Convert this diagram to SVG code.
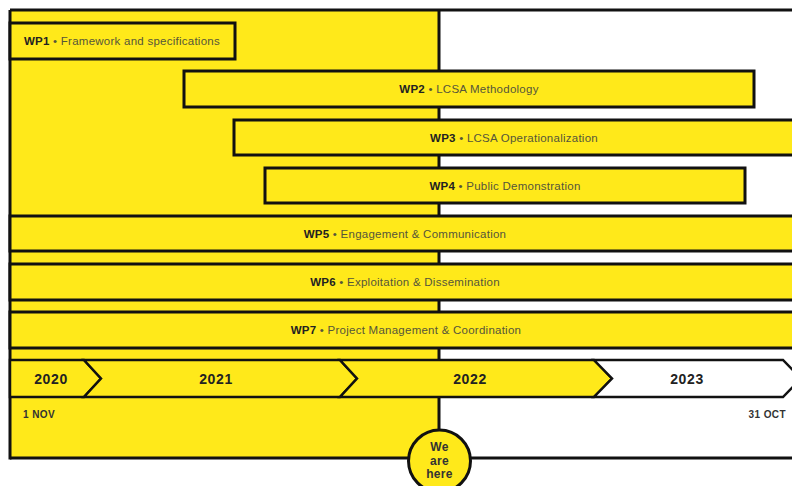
<svg xmlns="http://www.w3.org/2000/svg" width="792" height="486" viewBox="0 0 792 486">
<style>
.box{fill:#FFE91A;stroke:#111;stroke-width:3}
.seg{stroke:#111;stroke-width:2.5;stroke-linejoin:miter}
.lbl{font-family:"Liberation Sans","DejaVu Sans",sans-serif;font-size:11.5px;letter-spacing:0.25px;fill:#55553a}
.lbl .n{font-weight:bold;fill:#222}
.yr{font-family:"Liberation Sans","DejaVu Sans",sans-serif;font-size:14px;letter-spacing:0.6px;font-weight:bold;fill:#222;text-anchor:middle}
.dt{font-family:"Liberation Sans","DejaVu Sans",sans-serif;font-size:10px;letter-spacing:0.4px;font-weight:bold;fill:#333}
.here{font-family:"Liberation Sans","DejaVu Sans",sans-serif;font-size:12px;letter-spacing:0.3px;font-weight:bold;fill:#333;text-anchor:middle}
</style>
<rect x="0" y="0" width="792" height="486" fill="#fff"/>
<g id="frame">
<rect x="10" y="10" width="429" height="448" fill="#FFE91A"/>
<line x1="10" y1="10" x2="800" y2="10" stroke="#111" stroke-width="3"/>
<line x1="10" y1="10" x2="10" y2="459.5" stroke="#111" stroke-width="3"/>
<line x1="10" y1="458" x2="800" y2="458" stroke="#111" stroke-width="3"/>
</g>
<g id="connectors">
<line x1="439" y1="10" x2="439" y2="432" stroke="#111" stroke-width="3"/>
</g>
<g id="wp1"><rect class="box" x="10" y="23" width="225" height="36"/>
<text class="lbl" x="24" y="45"><tspan class="n">WP1</tspan> • Framework and specifications</text></g>
<g id="wp2"><rect class="box" x="184" y="71" width="570" height="36"/>
<text class="lbl" x="469" y="93" text-anchor="middle"><tspan class="n">WP2</tspan> • LCSA Methodology</text></g>
<g id="wp3"><rect class="box" x="234" y="120" width="570" height="35"/>
<text class="lbl" x="514" y="141.5" text-anchor="middle"><tspan class="n">WP3</tspan> • LCSA Operationalization</text></g>
<g id="wp4"><rect class="box" x="265" y="168" width="480" height="35"/>
<text class="lbl" x="505" y="189.5" text-anchor="middle"><tspan class="n">WP4</tspan> • Public Demonstration</text></g>
<g id="wp5"><rect class="box" x="10" y="216" width="790" height="35"/>
<text class="lbl" x="405" y="237.5" text-anchor="middle"><tspan class="n">WP5</tspan> • Engagement &amp; Communication</text></g>
<g id="wp6"><rect class="box" x="10" y="264" width="790" height="36"/>
<text class="lbl" x="405" y="286" text-anchor="middle"><tspan class="n">WP6</tspan> • Exploitation &amp; Dissemination</text></g>
<g id="wp7"><rect class="box" x="10" y="312" width="790" height="36"/>
<text class="lbl" x="406" y="334" text-anchor="middle"><tspan class="n">WP7</tspan> • Project Management &amp; Coordination</text></g>
<g id="y2020"><polygon class="seg" fill="#FFE91A" points="10,360 84,360 101,378.5 84,397 10,397"/>
<text class="yr" x="51" y="383.5">2020</text></g>
<g id="y2021"><polygon class="seg" fill="#FFE91A" points="84,360 340,360 357,378.5 340,397 84,397 101,378.5"/>
<text class="yr" x="216" y="383.5">2021</text></g>
<g id="y2022"><polygon class="seg" fill="#FFE91A" points="340,360 594,360 612,378.5 594,397 340,397 357,378.5"/>
<text class="yr" x="470" y="383.5">2022</text></g>
<g id="y2023"><polygon class="seg" fill="#fff" points="594,360 783,360 801,378.5 783,397 594,397 612,378.5"/>
<text class="yr" x="687" y="383.5">2023</text></g>
<g id="dates">
<text class="dt" x="23" y="418">1 NOV</text>
<text class="dt" x="786" y="418" text-anchor="end">31 OCT</text>
</g>
<g id="here"><circle cx="439.5" cy="461" r="31" fill="#FFE91A" stroke="#111" stroke-width="3"/>
<text class="here" x="439.5" y="451">We</text>
<text class="here" x="439.5" y="464.5">are</text>
<text class="here" x="439.5" y="478">here</text></g>
</svg>
